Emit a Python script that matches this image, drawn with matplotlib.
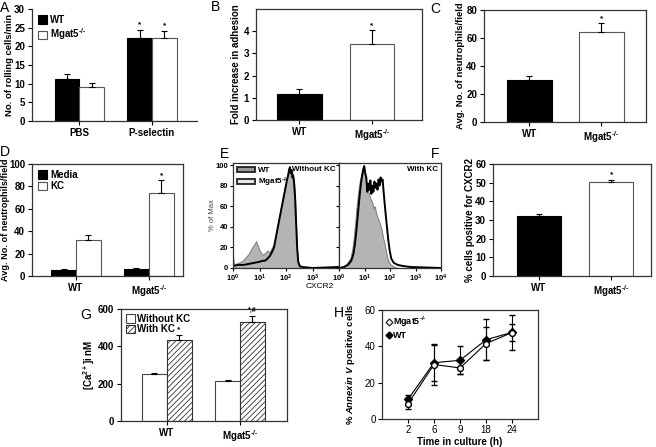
import numpy as np
import matplotlib
matplotlib.use("Agg")
import matplotlib.pyplot as plt
from matplotlib.patches import Patch
from matplotlib.lines import Line2D

plt.rcParams['font.family'] = ['Liberation Sans', 'DejaVu Sans']
plt.rcParams['font.weight'] = 'bold'
plt.rcParams['axes.labelweight'] = 'bold'
plt.rcParams['mathtext.fontset'] = 'custom'
plt.rcParams['mathtext.rm'] = 'Liberation Sans:bold'
plt.rcParams['mathtext.it'] = 'Liberation Sans:italic:bold'
plt.rcParams['mathtext.bf'] = 'Liberation Sans:bold'
plt.rcParams['hatch.linewidth'] = 0.6

KO = r"Mgat5$^{\text{-/-}}$"

# --- données ---
# A : rolling
A_groups = ['PBS', 'P-selectin']
A_wt = [11.2, 22.2]
A_wt_err = [1.3, 2.3]
A_ko = [9.1, 22.2]
A_ko_err = [1.1, 2.0]

# B : adhesion
B_labels = ['WT', KO]
B_vals = [1.18, 3.42]
B_err = [0.2, 0.62]

# C : neutrophiles / champ
C_labels = ['WT', KO]
C_vals = [29.8, 64.0]
C_err = [2.9, 6.4]

# D : migration Media / KC
D_labels = ['WT', KO]
D_media = [5.8, 6.3]
D_media_err = [0.8, 0.8]
D_kc = [32.0, 74.0]
D_kc_err = [4.5, 11.5]

# E : histogrammes CXCR2 (log10 de l'intensité, % du max)
E_wt0_log = [0.00, 0.03, 0.10, 0.20, 0.30, 0.40, 0.50, 0.60, 0.70, 0.80, 0.87, 0.93, 1.00, 1.08,
             1.15, 1.22, 1.30, 1.38, 1.45, 1.52, 1.58, 1.64, 1.70, 1.76, 1.82, 1.88, 1.94, 2.00,
             2.05, 2.10, 2.14, 2.18, 2.22, 2.26, 2.30, 2.34, 2.38, 2.42, 2.46, 2.52, 2.60, 4.00]
E_wt0 = [12, 4, 4, 5, 6, 8, 11, 14, 19, 23, 26, 22, 17, 14,
         13, 15, 17, 15, 19, 22, 28, 35, 44, 52, 60, 68, 75, 84,
         88, 92, 98, 94, 96, 90, 85, 70, 40, 15, 4, 1, 0, 0]
E_ko0_log = [0.00, 0.20, 0.40, 0.60, 0.80, 1.00, 1.10, 1.20, 1.30, 1.40, 1.48, 1.55, 1.62, 1.68,
             1.74, 1.80, 1.86, 1.92, 1.98, 2.04, 2.08, 2.12, 2.15, 2.18, 2.21, 2.24, 2.27, 2.30,
             2.34, 2.38, 2.42, 2.46, 2.52, 2.60, 3.00, 4.00]
E_ko0 = [2, 3, 3, 4, 5, 6, 7, 7, 9, 12, 16, 20, 30, 38,
         46, 54, 62, 70, 78, 86, 90, 96, 98, 92, 95, 88, 90, 84,
         70, 45, 20, 6, 2, 1, 0, 1]
E_wt1_log = [0.00, 0.15, 0.25, 0.35, 0.45, 0.52, 0.58, 0.64, 0.70, 0.76, 0.82, 0.88, 0.93, 0.97,
             1.01, 1.05, 1.10, 1.15, 1.20, 1.25, 1.30, 1.35, 1.40, 1.45, 1.50, 1.56, 1.62, 1.68,
             1.74, 1.80, 1.86, 1.92, 2.00, 2.10, 2.30, 4.00]
E_wt1 = [0, 1, 3, 6, 10, 18, 30, 45, 62, 75, 85, 92, 95, 91,
         94, 85, 80, 74, 70, 66, 64, 58, 60, 54, 50, 46, 42, 36,
         28, 22, 14, 8, 4, 2, 0, 0]
E_ko1_log = [0.00, 0.20, 0.35, 0.48, 0.56, 0.62, 0.68, 0.74, 0.80, 0.86, 0.91, 0.95, 0.99, 1.03,
             1.07, 1.11, 1.15, 1.19, 1.23, 1.27, 1.31, 1.35, 1.39, 1.43, 1.47, 1.51, 1.55, 1.59,
             1.63, 1.67, 1.71, 1.75, 1.80, 1.86, 1.92, 1.98, 2.05, 2.15, 2.30, 2.50, 2.80, 4.00]
E_ko1 = [0, 1, 3, 7, 13, 22, 36, 52, 68, 82, 90, 96, 99, 92,
         88, 74, 82, 76, 85, 72, 80, 74, 84, 78, 82, 76, 86, 80,
         88, 84, 86, 74, 60, 45, 30, 18, 9, 5, 3, 2, 1, 0]

# F : % CXCR2+
F_labels = ['WT', KO]
F_vals = [32.2, 50.4]
F_err = [1.1, 1.2]

# G : calcium
G_labels = ['WT', KO]
G_without = [251, 215]
G_without_err = [6, 4]
G_with = [435, 533]
G_with_err = [27, 32]

# H : annexine V
H_times = ['2', '6', '9', '18', '24']
H_ko = [8.4, 30.0, 28.1, 41.5, 47.6]
H_ko_err = [2.8, 11.5, 3.6, 9.0, 9.5]
H_wt = [10.8, 31.0, 32.3, 43.6, 47.7]
H_wt_err = [2.4, 10.0, 7.8, 11.2, 4.8]

W, H = 656, 447
fig = plt.figure(figsize=(W / 100, H / 100), dpi=100)


def add_ax(l, t, r, b):
    return fig.add_axes([l / W, 1 - b / H, (r - l) / W, (b - t) / H])


def style(ax, box=True):
    ax.tick_params(direction='out', length=3, width=0.8, labelsize=7, pad=2)
    for s in ax.spines.values():
        s.set_color('#333333')
        s.set_linewidth(0.9)
    if not box:
        ax.spines['top'].set_visible(False)
        ax.spines['right'].set_visible(False)
    ax.tick_params(top=False, right=False)


def ylab(ax, text, xfrac, size=7):
    ax.set_ylabel(text, fontsize=size)
    ax.yaxis.set_label_coords(xfrac, 0.5)


def star(ax, x, y, s='*', size=6):
    ax.annotate(s, (x, y), xytext=(0, 1), textcoords='offset points',
                ha='center', va='bottom', fontsize=size)


def errs(ax, x, v, e, both=False):
    lo = e if both else [0] * len(e)
    ax.errorbar(x, v, yerr=[lo, e], fmt='none', ecolor='black',
                elinewidth=0.8, capsize=2.2, capthick=0.8)


# ---------- A ----------
ax = add_ax(32, 9, 197, 121)
x = np.arange(len(A_groups))
w = 0.34
ax.bar(x - w / 2, A_wt, w, color='black', edgecolor='black', lw=0.8, label='WT')
ax.bar(x + w / 2, A_ko, w, color='white', edgecolor='#555555', lw=0.8, label=KO)
errs(ax, x - w / 2, A_wt, A_wt_err)
errs(ax, x + w / 2, A_ko, A_ko_err)
for i in [1]:
    star(ax, x[i] - w / 2, A_wt[i] + A_wt_err[i])
    star(ax, x[i] + w / 2, A_ko[i] + A_ko_err[i])
ax.set_xlim(-0.65, 1.62)
ax.set_ylim(0, 30)
ax.set_yticks(range(0, 31, 5))
ax.set_xticks(x, A_groups)
style(ax, box=False)
ylab(ax, 'No. of rolling cells/min', -0.11, size=6.8)
ax.legend(loc='upper left', frameon=False, fontsize=7, handlelength=0.9, handleheight=0.9,
          borderaxespad=0.2, labelspacing=0.15, handletextpad=0.4)

# ---------- B ----------
ax = add_ax(256, 9, 422, 120)
x = np.arange(2)
ax.bar(x, B_vals, 0.61, color=['black', 'white'], edgecolor=['black', '#555555'], lw=0.8)
errs(ax, x, B_vals, B_err)
star(ax, x[1], B_vals[1] + B_err[1])
ax.set_xlim(-0.6, 1.69)
ax.set_ylim(0, 5)
ax.set_yticks(range(0, 5))
ax.set_xticks(x, B_labels)
style(ax)
ylab(ax, 'Fold increase in adhesion', -0.09)

# ---------- C ----------
ax = add_ax(484, 10, 646, 122)
ax.bar(x, C_vals, 0.62, color=['black', 'white'], edgecolor=['black', '#555555'], lw=0.8)
errs(ax, x, C_vals, C_err)
star(ax, x[1], C_vals[1] + C_err[1])
ax.set_xlim(-0.63, 1.62)
ax.set_ylim(0, 80)
ax.set_yticks(range(0, 81, 20))
ax.set_xticks(x, C_labels)
style(ax)
ylab(ax, 'Avg. No. of neutrophils/field', -0.117, size=6.8)

# ---------- D ----------
ax = add_ax(32, 164, 183, 276)
w = 0.34
ax.bar(x - w / 2, D_media, w, color='black', edgecolor='black', lw=0.8, label='Media')
ax.bar(x + w / 2, D_kc, w, color='white', edgecolor='#555555', lw=0.8, label='KC')
errs(ax, x - w / 2, D_media, D_media_err)
errs(ax, x + w / 2, D_kc, D_kc_err)
star(ax, x[1] + w / 2, D_kc[1] + D_kc_err[1])
ax.set_xlim(-0.605, 1.47)
ax.set_ylim(0, 100)
ax.set_yticks(range(0, 101, 20))
ax.set_xticks(x, D_labels)
style(ax)
ylab(ax, 'Avg. No. of neutrophils/field', -0.149, size=6.6)
ax.legend(loc='upper left', frameon=False, fontsize=7, handlelength=0.9, handleheight=0.9,
          borderaxespad=0.2, labelspacing=0.15, handletextpad=0.4)

# ---------- E ----------
e_ticks = [1, 10, 100, 1000, 10000]
e_labels = [r'$10^0$', r'$10^1$', r'$10^2$', r'$10^3$', r'$10^4$']
panels = [(233, 339, E_wt0_log, E_wt0, E_ko0_log, E_ko0, 'Without KC'),
          (339, 441, E_wt1_log, E_wt1, E_ko1_log, E_ko1, 'With KC')]
for k, (l, r, wl, wv, kl, kv, title) in enumerate(panels):
    ax = add_ax(l, 163, r, 268)
    wx = np.power(10.0, wl)
    kx = np.power(10.0, kl)
    ax.fill_between(wx, wv, color='#b4b4b4', edgecolor='#7a7a7a', lw=0.7)
    ax.plot(kx, kv, color='black', lw=1.4)
    ax.set_xscale('log')
    ax.set_xlim(1, 10000)
    ax.set_ylim(0, 102)
    ax.set_xticks(e_ticks if k == 1 else e_ticks[:4], e_labels if k == 1 else e_labels[:4])
    ax.set_yticks(range(0, 101, 20))
    style(ax)
    ax.tick_params(labelsize=5.5, length=2, pad=1.5)
    ax.tick_params(which='minor', length=1.2, width=0.5, direction='out')
    ax.text(0.97, 0.97, title, transform=ax.transAxes, ha='right', va='top', fontsize=5.8)
    if k == 0:
        ax.set_ylabel('% of Max', fontsize=5.5, fontweight='normal', color='#444444')
        ax.yaxis.set_label_coords(-0.16, 0.5)
        hs = [Patch(facecolor='#999999', edgecolor='#222222', lw=1.3, label='WT'),
              Patch(facecolor='#e6e6e6', edgecolor='#222222', lw=1.3, label=KO)]
        ax.legend(handles=hs, loc='upper left', frameon=False, fontsize=5.8,
                  handlelength=2.2, handleheight=0.6, borderaxespad=0.1,
                  labelspacing=0.1, handletextpad=0.4)
    else:
        ax.set_yticklabels([])
fig.text(320 / W, 1 - 287 / H, 'CXCR2', ha='center', va='center', fontsize=6,
         fontweight='normal')

# ---------- F ----------
ax = add_ax(493, 164, 651, 276)
ax.bar(x, F_vals, 0.61, color=['black', 'white'], edgecolor=['black', '#555555'], lw=0.8)
errs(ax, x, F_vals, F_err)
star(ax, x[1], F_vals[1] + F_err[1])
ax.set_xlim(-0.63, 1.55)
ax.set_ylim(0, 60)
ax.set_yticks(range(0, 61, 10))
ax.set_xticks(x, F_labels)
style(ax)
ylab(ax, '% cells positive for CXCR2', -0.114)

# ---------- G ----------
ax = add_ax(121, 309, 287, 421)
w = 0.34
ax.bar(x - w / 2, G_without, w, color='white', edgecolor='#444444', lw=0.8, label='Without KC')
ax.bar(x + w / 2, G_with, w, color='white', edgecolor='#333333', lw=0.8, hatch='//////',
       label='With KC')
errs(ax, x - w / 2, G_without, G_without_err)
errs(ax, x + w / 2, G_with, G_with_err)
star(ax, x[0] + w / 2, G_with[0] + G_with_err[0])
star(ax, x[1] + w / 2, G_with[1] + G_with_err[1], '*,#', size=5)
ax.set_xlim(-0.62, 1.64)
ax.set_ylim(0, 600)
ax.set_yticks(range(0, 601, 200))
ax.set_xticks(x, G_labels)
style(ax)
ylab(ax, r'[Ca$^{2+}$]i nM', -0.145)
ax.legend(loc='upper left', frameon=False, fontsize=7, handlelength=0.9, handleheight=0.9,
          borderaxespad=0.1, labelspacing=0.05, handletextpad=0.25)

# ---------- H ----------
ax = add_ax(382, 310, 538, 419)
hx = np.arange(1, len(H_times) + 1)
ax.errorbar(hx, H_wt, yerr=H_wt_err, color='black', lw=0.8, elinewidth=0.8, capsize=2.2,
            marker='D', ms=4, mfc='black', mec='black', label='WT', zorder=3)
ax.errorbar(hx, H_ko, yerr=H_ko_err, color='black', lw=0.8, elinewidth=0.8, capsize=2.2,
            marker='o', ms=4.2, mfc='white', mec='black', label=KO, zorder=4)
ax.set_xlim(0, 6)
ax.set_ylim(0, 60)
ax.set_yticks(range(0, 61, 20))
ax.set_xticks(hx, H_times)
style(ax)
ax.tick_params(pad=1.5)
ax.set_xlabel('Time in culture (h)', fontsize=7, labelpad=1)
ax.set_ylabel(r'% $\it{Annexin\ V}$ positive cells', fontsize=6.8)
ax.yaxis.set_label_coords(-0.16, 0.5)
hs = [Line2D([], [], ls='none', marker='D', ms=3.5, mfc='white', mec='#333333', label=KO),
      Line2D([], [], ls='none', marker='D', ms=3.5, mfc='black', mec='black', label='WT')]
ax.legend(handles=hs, loc='upper left', frameon=False, fontsize=6.5, handlelength=0.5,
          borderaxespad=0.1, labelspacing=0.2, handletextpad=0.2)
for t in ax.get_yticklabels() + ax.get_xticklabels():
    t.set_fontweight('normal')

# lettres des panneaux
for lab, px, py in [('A', 5, 8), ('B', 216, 7), ('C', 435, 9), ('D', 5, 152),
                    ('E', 224, 154), ('F', 435, 154), ('G', 86, 315), ('H', 339, 313)]:
    fig.text(px / W, 1 - py / H, lab, fontsize=10, fontweight='normal', ha='center', va='center')

fig.savefig('out.png', dpi=100)
